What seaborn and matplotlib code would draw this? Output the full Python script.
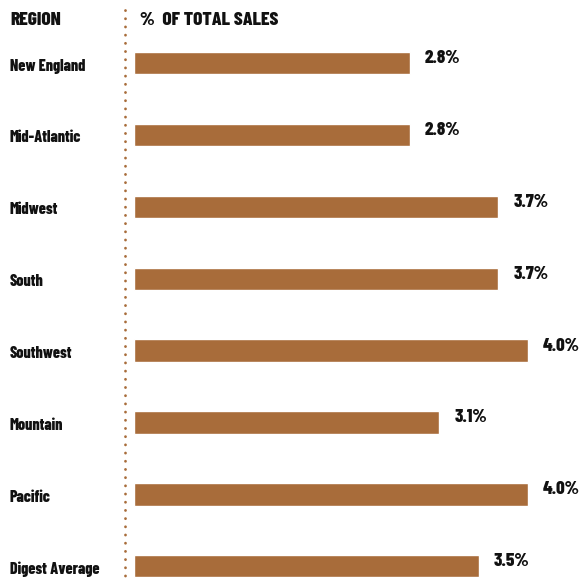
import matplotlib
matplotlib.use("Agg")
import matplotlib.pyplot as plt
import seaborn as sns
import pandas as pd
from matplotlib.lines import Line2D

regions = ["New England", "Mid-Atlantic", "Midwest", "South",
           "Southwest", "Mountain", "Pacific", "Digest Average"]
share = [2.8, 2.8, 3.7, 3.7, 4.0, 3.1, 4.0, 3.5]
value_labels = ["2.8%", "2.8%", "3.7%", "3.7%", "4.0%", "3.1%", "4.0%", "3.5%"]

sns.set_style("white")
plt.rcParams["font.family"] = ["Barlow Condensed", "DejaVu Sans"]

BAR = "#A86C3A"
INK = "#111111"
W, H = 579, 582
fig = plt.figure(figsize=(W / 100, H / 100), dpi=100)

left_px = 134
ax = fig.add_axes([left_px / W, 0, (W - left_px) / W, 1])

df = pd.DataFrame({"region": regions, "share": share})
sns.barplot(data=df, x="share", y="region", orient="h", color=BAR,
            saturation=1, width=0.31, ax=ax)

px_per_unit = (528 - left_px) / 4.0
ax.set_xlim(0, (W - left_px) / px_per_unit)
first_px, step_px = 63, 71.9
ax.set_ylim((H - first_px) / step_px, -first_px / step_px)
ax.axis("off")

# value labels to the right of each bar
for i, (v, lab) in enumerate(zip(share, value_labels)):
    ax.text(v + 15 / px_per_unit, i - 0.07, lab, ha="left", va="center",
            fontsize=13.5, fontweight=800, color=INK)

# region names on the left
for i, r in enumerate(regions):
    y = 1 - (first_px + step_px * i + 3) / H
    fig.text(10 / W, y, r, ha="left", va="center", fontsize=11.5,
             fontweight=800, color=INK)

# column headers
fig.text(10 / W, 1 - 20 / H, "REGION", ha="left", va="center",
         fontsize=14, fontweight=800, color=INK)
fig.text(140 / W, 1 - 20 / H, "%  OF TOTAL SALES", ha="left", va="center",
         fontsize=14, fontweight=800, color=INK)

# dotted divider
fig.add_artist(Line2D([125 / W, 125 / W], [1 - 10 / H, 0], transform=fig.transFigure,
                      color=BAR, lw=2.0, linestyle=(0, (0.05, 2.9)),
                      dash_capstyle="round"))

fig.savefig("out.png", dpi=100)
